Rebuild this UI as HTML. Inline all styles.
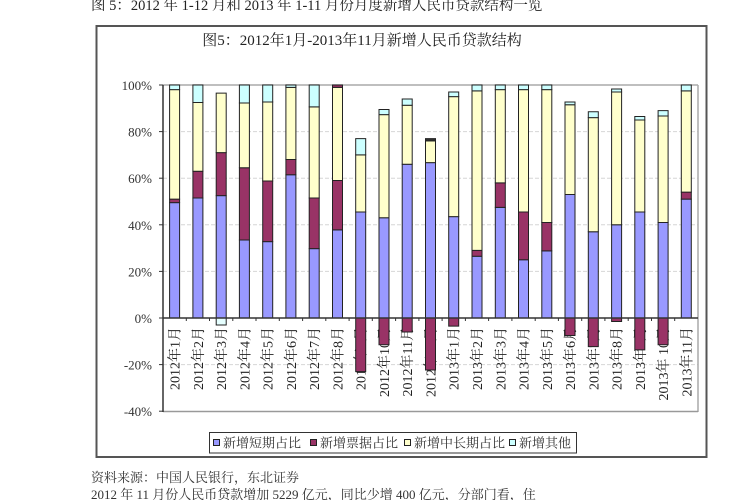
<!DOCTYPE html>
<html>
<head>
<meta charset="utf-8">
<style>
  html,body{margin:0;padding:0;background:#fff;}
  body{width:750px;height:500px;overflow:hidden;position:relative;}
  svg{position:absolute;left:0;top:0;}
  .s{font-family:"Liberation Serif","Noto Serif CJK SC",serif;}
</style>
</head>
<body>
<svg width="750" height="500" viewBox="0 0 750 500" xmlns="http://www.w3.org/2000/svg">
  <!-- header -->
  <text x="91" y="10" class="s" font-size="14.5" fill="#222">图 5：2012 年 1-12 月和 2013 年 1-11 月份月度新增人民币贷款结构一览</text>

  <!-- outer frame -->
  <rect x="96.5" y="26" width="610" height="431" fill="#fff" stroke="#555" stroke-width="2"/>

  <!-- chart title -->
  <text x="362" y="45" class="s" font-size="15" fill="#222" text-anchor="middle">图5：2012年1月-2013年11月新增人民币贷款结构</text>

  <!-- gridlines -->
  <g stroke="#d6d6d6" stroke-width="1" stroke-dasharray="4,2">
    <line x1="163" y1="131.6" x2="698" y2="131.6"/>
    <line x1="163" y1="178.2" x2="698" y2="178.2"/>
    <line x1="163" y1="224.8" x2="698" y2="224.8"/>
    <line x1="163" y1="271.4" x2="698" y2="271.4"/>
    <line x1="163" y1="364.6" x2="698" y2="364.6"/>
  </g>
  <!-- plot border -->
  <line x1="163" y1="85" x2="698" y2="85" stroke="#aaa" stroke-width="1.5"/>
  <line x1="698" y1="85" x2="698" y2="412" stroke="#aaa" stroke-width="1.5"/>
  <line x1="163" y1="411.5" x2="698" y2="411.5" stroke="#999" stroke-width="1.5"/>

  <!-- y labels -->
  <g class="s" font-size="13" fill="#333" text-anchor="end">
    <text x="152" y="90">100%</text>
    <text x="152" y="136.6">80%</text>
    <text x="152" y="183.2">60%</text>
    <text x="152" y="229.8">40%</text>
    <text x="152" y="276.4">20%</text>
    <text x="152" y="323">0%</text>
    <text x="152" y="369.6">-20%</text>
    <text x="152" y="416.2">-40%</text>
  </g>

  <!-- x labels -->
  <g class="s" font-size="14" fill="#222" text-anchor="end">
    <text transform="translate(179.6 327) rotate(-90)">2012年1月</text>
    <text transform="translate(202.9 327) rotate(-90)">2012年2月</text>
    <text transform="translate(226.2 327) rotate(-90)">2012年3月</text>
    <text transform="translate(249.4 327) rotate(-90)">2012年4月</text>
    <text transform="translate(272.7 327) rotate(-90)">2012年5月</text>
    <text transform="translate(295.9 327) rotate(-90)">2012年6月</text>
    <text transform="translate(319.2 327) rotate(-90)">2012年7月</text>
    <text transform="translate(342.5 327) rotate(-90)">2012年8月</text>
    <text transform="translate(365.7 327) rotate(-90)">2012年9月</text>
    <text transform="translate(389.0 327) rotate(-90)">2012年10月</text>
    <text transform="translate(412.2 327) rotate(-90)">2012年11月</text>
    <text transform="translate(435.5 327) rotate(-90)">2012年12月</text>
    <text transform="translate(458.7 327) rotate(-90)">2013年1月</text>
    <text transform="translate(482.0 327) rotate(-90)">2013年2月</text>
    <text transform="translate(505.3 327) rotate(-90)">2013年3月</text>
    <text transform="translate(528.5 327) rotate(-90)">2013年4月</text>
    <text transform="translate(551.8 327) rotate(-90)">2013年5月</text>
    <text transform="translate(575.0 327) rotate(-90)">2013年6月</text>
    <text transform="translate(598.3 327) rotate(-90)">2013年7月</text>
    <text transform="translate(621.6 327) rotate(-90)">2013年8月</text>
    <text transform="translate(644.8 327) rotate(-90)">2013年9月</text>
    <text transform="translate(668.1 327) rotate(-90)">2013年 10月</text>
    <text transform="translate(691.3 327) rotate(-90)">2013年11月</text>
  </g>

  <!-- bars -->
  <g transform="translate(0 318) scale(1 -2.33)" stroke="#222" stroke-width="1">
    <!-- 0 -->
    <rect x="169.6" y="0" width="10" height="49.5" fill="#9999FF" vector-effect="non-scaling-stroke"/>
    <rect x="169.6" y="49.5" width="10" height="1.5" fill="#993366" vector-effect="non-scaling-stroke"/>
    <rect x="169.6" y="51" width="10" height="47" fill="#FFFFCC" vector-effect="non-scaling-stroke"/>
    <rect x="169.6" y="98" width="10" height="2" fill="#CCFFFF" vector-effect="non-scaling-stroke"/>
    <!-- 1 -->
    <rect x="192.9" y="0" width="10" height="51.5" fill="#9999FF" vector-effect="non-scaling-stroke"/>
    <rect x="192.9" y="51.5" width="10" height="11.5" fill="#993366" vector-effect="non-scaling-stroke"/>
    <rect x="192.9" y="63" width="10" height="29.5" fill="#FFFFCC" vector-effect="non-scaling-stroke"/>
    <rect x="192.9" y="92.5" width="10" height="7.5" fill="#CCFFFF" vector-effect="non-scaling-stroke"/>
    <!-- 2 -->
    <rect x="216.2" y="0" width="10" height="52.5" fill="#9999FF" vector-effect="non-scaling-stroke"/>
    <rect x="216.2" y="52.5" width="10" height="18.5" fill="#993366" vector-effect="non-scaling-stroke"/>
    <rect x="216.2" y="71" width="10" height="25.5" fill="#FFFFCC" vector-effect="non-scaling-stroke"/>
    <rect x="216.2" y="-3" width="10" height="3" fill="#E6FFFF" vector-effect="non-scaling-stroke"/>
    <!-- 3 -->
    <rect x="239.4" y="0" width="10" height="33.5" fill="#9999FF" vector-effect="non-scaling-stroke"/>
    <rect x="239.4" y="33.5" width="10" height="31" fill="#993366" vector-effect="non-scaling-stroke"/>
    <rect x="239.4" y="64.5" width="10" height="27.8" fill="#FFFFCC" vector-effect="non-scaling-stroke"/>
    <rect x="239.4" y="92.3" width="10" height="7.7" fill="#CCFFFF" vector-effect="non-scaling-stroke"/>
    <!-- 4 -->
    <rect x="262.7" y="0" width="10" height="32.8" fill="#9999FF" vector-effect="non-scaling-stroke"/>
    <rect x="262.7" y="32.8" width="10" height="26" fill="#993366" vector-effect="non-scaling-stroke"/>
    <rect x="262.7" y="58.8" width="10" height="33.9" fill="#FFFFCC" vector-effect="non-scaling-stroke"/>
    <rect x="262.7" y="92.7" width="10" height="7.3" fill="#CCFFFF" vector-effect="non-scaling-stroke"/>
    <!-- 5 -->
    <rect x="285.9" y="0" width="10" height="61.5" fill="#9999FF" vector-effect="non-scaling-stroke"/>
    <rect x="285.9" y="61.5" width="10" height="6.5" fill="#993366" vector-effect="non-scaling-stroke"/>
    <rect x="285.9" y="68" width="10" height="31" fill="#FFFFCC" vector-effect="non-scaling-stroke"/>
    <rect x="285.9" y="99" width="10" height="1" fill="#CCFFFF" vector-effect="non-scaling-stroke"/>
    <!-- 6 -->
    <rect x="309.2" y="0" width="10" height="29.8" fill="#9999FF" vector-effect="non-scaling-stroke"/>
    <rect x="309.2" y="29.8" width="10" height="21.7" fill="#993366" vector-effect="non-scaling-stroke"/>
    <rect x="309.2" y="51.5" width="10" height="39.1" fill="#FFFFCC" vector-effect="non-scaling-stroke"/>
    <rect x="309.2" y="90.6" width="10" height="9.4" fill="#CCFFFF" vector-effect="non-scaling-stroke"/>
    <!-- 7 -->
    <rect x="332.5" y="0" width="10" height="37.8" fill="#9999FF" vector-effect="non-scaling-stroke"/>
    <rect x="332.5" y="37.8" width="10" height="21.2" fill="#993366" vector-effect="non-scaling-stroke"/>
    <rect x="332.5" y="59" width="10" height="40" fill="#FFFFCC" vector-effect="non-scaling-stroke"/>
    <rect x="332.5" y="99" width="10" height="1" fill="#993366" vector-effect="non-scaling-stroke"/>
    <!-- 8 -->
    <rect x="355.7" y="0" width="10" height="45.5" fill="#9999FF" vector-effect="non-scaling-stroke"/>
    <rect x="355.7" y="45.5" width="10" height="24.5" fill="#FFFFCC" vector-effect="non-scaling-stroke"/>
    <rect x="355.7" y="70" width="10" height="7" fill="#CCFFFF" vector-effect="non-scaling-stroke"/>
    <rect x="355.7" y="-23" width="10" height="23" fill="#993366" vector-effect="non-scaling-stroke"/>
    <!-- 9 -->
    <rect x="379.0" y="0" width="10" height="43" fill="#9999FF" vector-effect="non-scaling-stroke"/>
    <rect x="379.0" y="43" width="10" height="44.3" fill="#FFFFCC" vector-effect="non-scaling-stroke"/>
    <rect x="379.0" y="87.3" width="10" height="2.2" fill="#CCFFFF" vector-effect="non-scaling-stroke"/>
    <rect x="379.0" y="-11.5" width="10" height="11.5" fill="#993366" vector-effect="non-scaling-stroke"/>
    <!-- 10 -->
    <rect x="402.2" y="0" width="10" height="66" fill="#9999FF" vector-effect="non-scaling-stroke"/>
    <rect x="402.2" y="66" width="10" height="25.3" fill="#FFFFCC" vector-effect="non-scaling-stroke"/>
    <rect x="402.2" y="91.3" width="10" height="2.7" fill="#CCFFFF" vector-effect="non-scaling-stroke"/>
    <rect x="402.2" y="-6" width="10" height="6" fill="#993366" vector-effect="non-scaling-stroke"/>
    <!-- 11 -->
    <rect x="425.5" y="0" width="10" height="66.7" fill="#9999FF" vector-effect="non-scaling-stroke"/>
    <rect x="425.5" y="66.7" width="10" height="9.3" fill="#FFFFCC" vector-effect="non-scaling-stroke"/>
    <rect x="425.5" y="76" width="10" height="1" fill="#333" vector-effect="non-scaling-stroke"/>
    <rect x="425.5" y="-22.3" width="10" height="22.3" fill="#993366" vector-effect="non-scaling-stroke"/>
    <!-- 12 -->
    <rect x="448.7" y="0" width="10" height="43.5" fill="#9999FF" vector-effect="non-scaling-stroke"/>
    <rect x="448.7" y="43.5" width="10" height="51.5" fill="#FFFFCC" vector-effect="non-scaling-stroke"/>
    <rect x="448.7" y="95" width="10" height="2" fill="#CCFFFF" vector-effect="non-scaling-stroke"/>
    <rect x="448.7" y="-3.5" width="10" height="3.5" fill="#993366" vector-effect="non-scaling-stroke"/>
    <!-- 13 -->
    <rect x="472.0" y="0" width="10" height="26.5" fill="#9999FF" vector-effect="non-scaling-stroke"/>
    <rect x="472.0" y="26.5" width="10" height="2.5" fill="#993366" vector-effect="non-scaling-stroke"/>
    <rect x="472.0" y="29" width="10" height="68.5" fill="#FFFFCC" vector-effect="non-scaling-stroke"/>
    <rect x="472.0" y="97.5" width="10" height="2.5" fill="#CCFFFF" vector-effect="non-scaling-stroke"/>
    <!-- 14 -->
    <rect x="495.3" y="0" width="10" height="47.5" fill="#9999FF" vector-effect="non-scaling-stroke"/>
    <rect x="495.3" y="47.5" width="10" height="10.5" fill="#993366" vector-effect="non-scaling-stroke"/>
    <rect x="495.3" y="58" width="10" height="40" fill="#FFFFCC" vector-effect="non-scaling-stroke"/>
    <rect x="495.3" y="98" width="10" height="2" fill="#CCFFFF" vector-effect="non-scaling-stroke"/>
    <!-- 15 -->
    <rect x="518.5" y="0" width="10" height="25" fill="#9999FF" vector-effect="non-scaling-stroke"/>
    <rect x="518.5" y="25" width="10" height="20.5" fill="#993366" vector-effect="non-scaling-stroke"/>
    <rect x="518.5" y="45.5" width="10" height="52.5" fill="#FFFFCC" vector-effect="non-scaling-stroke"/>
    <rect x="518.5" y="98" width="10" height="2" fill="#CCFFFF" vector-effect="non-scaling-stroke"/>
    <!-- 16 -->
    <rect x="541.8" y="0" width="10" height="28.8" fill="#9999FF" vector-effect="non-scaling-stroke"/>
    <rect x="541.8" y="28.8" width="10" height="12.2" fill="#993366" vector-effect="non-scaling-stroke"/>
    <rect x="541.8" y="41" width="10" height="57" fill="#FFFFCC" vector-effect="non-scaling-stroke"/>
    <rect x="541.8" y="98" width="10" height="2" fill="#CCFFFF" vector-effect="non-scaling-stroke"/>
    <!-- 17 -->
    <rect x="565.0" y="0" width="10" height="53" fill="#9999FF" vector-effect="non-scaling-stroke"/>
    <rect x="565.0" y="53" width="10" height="38.5" fill="#FFFFCC" vector-effect="non-scaling-stroke"/>
    <rect x="565.0" y="91.5" width="10" height="1.2" fill="#CCFFFF" vector-effect="non-scaling-stroke"/>
    <rect x="565.0" y="-7.5" width="10" height="7.5" fill="#993366" vector-effect="non-scaling-stroke"/>
    <!-- 18 -->
    <rect x="588.3" y="0" width="10" height="37" fill="#9999FF" vector-effect="non-scaling-stroke"/>
    <rect x="588.3" y="37" width="10" height="49" fill="#FFFFCC" vector-effect="non-scaling-stroke"/>
    <rect x="588.3" y="86" width="10" height="2.5" fill="#CCFFFF" vector-effect="non-scaling-stroke"/>
    <rect x="588.3" y="-12.3" width="10" height="12.3" fill="#993366" vector-effect="non-scaling-stroke"/>
    <!-- 19 -->
    <rect x="611.6" y="0" width="10" height="40" fill="#9999FF" vector-effect="non-scaling-stroke"/>
    <rect x="611.6" y="40" width="10" height="57" fill="#FFFFCC" vector-effect="non-scaling-stroke"/>
    <rect x="611.6" y="97" width="10" height="1.3" fill="#CCFFFF" vector-effect="non-scaling-stroke"/>
    <rect x="611.6" y="-1.5" width="10" height="1.5" fill="#993366" vector-effect="non-scaling-stroke"/>
    <!-- 20 -->
    <rect x="634.8" y="0" width="10" height="45.5" fill="#9999FF" vector-effect="non-scaling-stroke"/>
    <rect x="634.8" y="45.5" width="10" height="39.5" fill="#FFFFCC" vector-effect="non-scaling-stroke"/>
    <rect x="634.8" y="85" width="10" height="1.5" fill="#CCFFFF" vector-effect="non-scaling-stroke"/>
    <rect x="634.8" y="-13.7" width="10" height="13.7" fill="#993366" vector-effect="non-scaling-stroke"/>
    <!-- 21 -->
    <rect x="658.1" y="0" width="10" height="41" fill="#9999FF" vector-effect="non-scaling-stroke"/>
    <rect x="658.1" y="41" width="10" height="45.7" fill="#FFFFCC" vector-effect="non-scaling-stroke"/>
    <rect x="658.1" y="86.7" width="10" height="2.3" fill="#CCFFFF" vector-effect="non-scaling-stroke"/>
    <rect x="658.1" y="-11.5" width="10" height="11.5" fill="#993366" vector-effect="non-scaling-stroke"/>
    <!-- 22 -->
    <rect x="681.3" y="0" width="10" height="51" fill="#9999FF" vector-effect="non-scaling-stroke"/>
    <rect x="681.3" y="51" width="10" height="3" fill="#993366" vector-effect="non-scaling-stroke"/>
    <rect x="681.3" y="54" width="10" height="43.5" fill="#FFFFCC" vector-effect="non-scaling-stroke"/>
    <rect x="681.3" y="97.5" width="10" height="2.5" fill="#CCFFFF" vector-effect="non-scaling-stroke"/>
  </g>

  <!-- axes -->
  <line x1="163" y1="85" x2="163" y2="412" stroke="#333" stroke-width="1.5"/>
  <line x1="163" y1="318" x2="698" y2="318" stroke="#333" stroke-width="1.5"/>
  <g stroke="#333" stroke-width="1">
    <line x1="159" y1="85" x2="163" y2="85"/>
    <line x1="159" y1="131.6" x2="163" y2="131.6"/>
    <line x1="159" y1="178.2" x2="163" y2="178.2"/>
    <line x1="159" y1="224.8" x2="163" y2="224.8"/>
    <line x1="159" y1="271.4" x2="163" y2="271.4"/>
    <line x1="159" y1="318" x2="163" y2="318"/>
    <line x1="159" y1="364.6" x2="163" y2="364.6"/>
    <line x1="159" y1="411.2" x2="163" y2="411.2"/>
  </g>
  <g stroke="#333" stroke-width="1">
    <line x1="186.3" y1="318" x2="186.3" y2="321"/>
    <line x1="209.5" y1="318" x2="209.5" y2="321"/>
    <line x1="232.8" y1="318" x2="232.8" y2="321"/>
    <line x1="256.0" y1="318" x2="256.0" y2="321"/>
    <line x1="279.3" y1="318" x2="279.3" y2="321"/>
    <line x1="302.6" y1="318" x2="302.6" y2="321"/>
    <line x1="325.8" y1="318" x2="325.8" y2="321"/>
    <line x1="349.1" y1="318" x2="349.1" y2="321"/>
    <line x1="372.3" y1="318" x2="372.3" y2="321"/>
    <line x1="395.6" y1="318" x2="395.6" y2="321"/>
    <line x1="418.9" y1="318" x2="418.9" y2="321"/>
    <line x1="442.1" y1="318" x2="442.1" y2="321"/>
    <line x1="465.4" y1="318" x2="465.4" y2="321"/>
    <line x1="488.6" y1="318" x2="488.6" y2="321"/>
    <line x1="511.9" y1="318" x2="511.9" y2="321"/>
    <line x1="535.2" y1="318" x2="535.2" y2="321"/>
    <line x1="558.4" y1="318" x2="558.4" y2="321"/>
    <line x1="581.7" y1="318" x2="581.7" y2="321"/>
    <line x1="604.9" y1="318" x2="604.9" y2="321"/>
    <line x1="628.2" y1="318" x2="628.2" y2="321"/>
    <line x1="651.5" y1="318" x2="651.5" y2="321"/>
    <line x1="674.7" y1="318" x2="674.7" y2="321"/>
  </g>

  <!-- legend -->
  <rect x="209.5" y="432.5" width="367" height="20.5" fill="#fff" stroke="#333" stroke-width="1"/>
  <g stroke="#222" stroke-width="1">
    <rect x="213.5" y="439.5" width="6" height="6" fill="#9999FF"/>
    <rect x="310.5" y="439.5" width="6" height="6" fill="#993366"/>
    <rect x="404.5" y="439.5" width="6" height="6" fill="#FFFFCC"/>
    <rect x="509.5" y="439.5" width="6" height="6" fill="#CCFFFF"/>
  </g>
  <g class="s" font-size="13" fill="#333">
    <text x="223" y="447.5">新增短期占比</text>
    <text x="320" y="447.5">新增票据占比</text>
    <text x="414" y="447.5">新增中长期占比</text>
    <text x="519" y="447.5">新增其他</text>
  </g>

  <!-- footer -->
  <text x="91" y="482" class="s" font-size="13" fill="#333">资料来源：中国人民银行，东北证券</text>
  <text x="91" y="499" class="s" font-size="13" fill="#333">2012 年 11 月份人民币贷款增加 5229 亿元，同比少增 400 亿元，分部门看，住</text>
</svg>
</body>
</html>
